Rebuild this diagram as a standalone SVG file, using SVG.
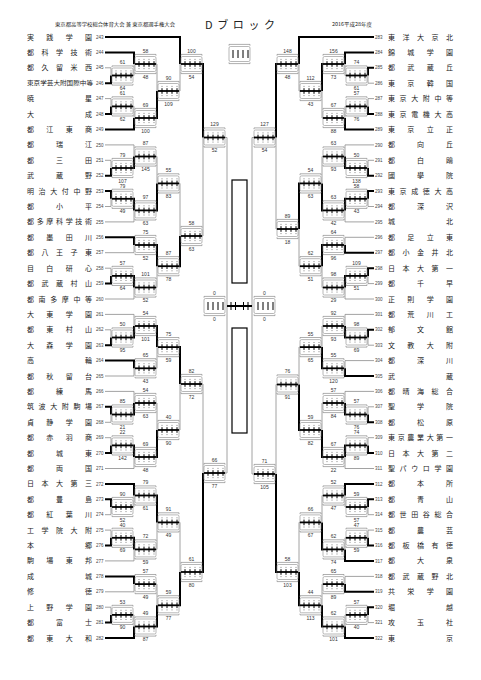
<svg xmlns="http://www.w3.org/2000/svg" xmlns:xlink="http://www.w3.org/1999/xlink" width="481" height="680" viewBox="0 0 481 680">
<style>
.nm{font-family:"Noto Sans CJK JP","Noto Sans CJK SC",sans-serif;font-size:7px;fill:#222}
.no{font-family:"Liberation Sans",sans-serif;font-size:4.5px;fill:#444}
.sc{font-family:"Liberation Sans",sans-serif;font-size:5px;fill:#333;text-anchor:middle}
.hd{font-family:"Noto Sans CJK JP","Noto Sans CJK SC",sans-serif;fill:#222}
.tn{fill:none;stroke:#8a8a8a;stroke-width:0.8}
.tk{fill:none;stroke:#000;stroke-width:2}
.br{fill:none;stroke:#777;stroke-width:0.6}
.bxr{fill:#fff;stroke:#888;stroke-width:0.6}
.dt{fill:none;stroke:#999;stroke-width:0.6}
.ml{fill:none;stroke:#000;stroke-width:1.8}
.tc{fill:none;stroke:#000;stroke-width:1}
.big{fill:none;stroke:#000;stroke-width:1.2}
</style>
<defs>
<g id="bx">
<path class="br" d="M0,-8.3V-9.6H21V-8.3M0,8.3V9.6H21V8.3"/>
<rect class="bxr" x="0" y="-7.5" width="21" height="15" rx="1.5"/>
<path class="dt" d="M3,-4.6h2M8,-4.6h2M13,-4.6h2M18,-4.6h2M3,4.6h2M8,4.6h2M13,4.6h2M18,4.6h2"/>
<path class="ml" d="M0,0H21"/>
<path class="tc" d="M4,-2.8V2.8M9,-2.8V2.8M14,-2.8V2.8M19,-2.8V2.8"/>
</g>
<g id="sb">
<path class="br" d="M0,-8.3V-9.6H21V-8.3M0,8.3V9.6H21V8.3"/>
<rect class="bxr" x="0" y="-7.5" width="21" height="15" rx="1.5"/>
<path class="tc" d="M4,-4V4M9,-4V4M14,-4V4M19,-4V4"/>
</g>
</defs>
<rect width="481" height="680" fill="#fff"/>

<g id="header">
<text class="hd" x="55" y="25.5" font-size="5" textLength="120" lengthAdjust="spacingAndGlyphs">東京都高等学校総合体育大会 兼 東京都選手権大会</text>
<text class="hd" x="205" y="29" font-size="11" textLength="70">Dブロック</text>
<text class="hd" x="332" y="25.5" font-size="5" textLength="40" lengthAdjust="spacingAndGlyphs">2016平成28年度</text>
</g>

<g id="connectors">
<path class="tn" d="M105,67.8H111V75.5M133,75.5H134V64M105,98.6H111V106.4M133,106.4H134V118M156,64H157V91M179,91H180V64M105,160.3H111V168M105,144.9H134V156.5M105,206.5H111V198.8M105,221.9H134V210.4M156,156.5H157V183.4M105,252.7H134V245M105,268.2H111V275.9M105,299H134V287.5M156,287.5H157V266.2M179,183.4H180V236M202,236H203V137.5M105,329.8H111V337.5M105,314.4H134V326M105,376H134V368.3M156,368.3H157V347.1M105,422.3H111V414.5M105,391.4H134V403M105,437.7H111V445.4M105,468.5H134V457M156,403H157V430M179,430H180V384M105,514.7H111V507M133,507H134V495.5M105,530.1H111V537.8M105,560.9H134V549.4M156,549.4H157V522.4M105,591.8H134V584.1M105,607.2H111V614.9M133,614.9H134V626.5M156,584.1H157V605.3M179,522.4H180V572M202,384H203V473M225,137.5H227V473H225"/>
<path class="tk" d="M105,83.2H111V75.5M105,52.4H134V64M105,114.1H111V106.4M105,129.5H134V118M156,118H157V91M105,37H180V64M105,175.7H111V168M133,168H134V156.5M105,191.1H111V198.8M133,198.8H134V210.4M156,210.4H157V183.4M105,237.3H134V245M105,283.6H111V275.9M133,275.9H134V287.5M156,245H157V266.2M179,266.2H180V236M202,64H203V137.5M105,345.2H111V337.5M133,337.5H134V326M105,360.6H134V368.3M156,326H157V347.1M105,406.8H111V414.5M133,414.5H134V403M105,453.1H111V445.4M133,445.4H134V457M156,457H157V430M179,347.1H180V384M105,499.3H111V507M105,483.9H134V495.5M105,545.5H111V537.8M133,537.8H134V549.4M156,495.5H157V522.4M105,576.4H134V584.1M105,622.6H111V614.9M105,638H134V626.5M156,626.5H157V605.3M179,605.3H180V572M202,572H203V473"/>
<path class="tn" d="M374,83.2H368V75.5M346,75.5H345V64M374,98.6H368V106.4M346,106.4H345V118M323,118H322V91M300,91H299V64M374,160.3H368V168M374,144.9H345V156.5M374,206.5H368V198.8M374,221.9H345V210.4M323,156.5H322V183.4M374,237.3H345V245M374,283.6H368V275.9M374,299H345V287.5M323,287.5H322V266.2M300,266.2H299V229M277,229H276V137.5M374,345.2H368V337.5M374,314.4H345V326M374,360.6H345V368.3M323,326H322V347.1M374,406.8H368V414.5M374,391.4H345V403M374,437.7H368V445.4M374,468.5H345V457M323,403H322V430M300,347.1H299V384.5M374,514.7H368V507M346,507H345V495.5M374,530.1H368V537.8M346,537.8H345V549.4M323,495.5H322V522.4M374,576.4H345V584.1M374,622.6H368V614.9M346,614.9H345V626.5M323,584.1H322V605.3M300,522.4H299V572M277,384.5H276V474M254,137.5H252V474H254"/>
<path class="tk" d="M374,67.8H368V75.5M374,52.4H345V64M374,114.1H368V106.4M374,129.5H345V118M323,64H322V91M374,37H299V64M374,175.7H368V168M346,168H345V156.5M374,191.1H368V198.8M346,198.8H345V210.4M323,210.4H322V183.4M374,252.7H345V245M374,268.2H368V275.9M346,275.9H345V287.5M323,245H322V266.2M300,183.4H299V229M277,64H276V137.5M374,329.8H368V337.5M346,337.5H345V326M374,376H345V368.3M323,368.3H322V347.1M374,422.3H368V414.5M346,414.5H345V403M374,453.1H368V445.4M346,445.4H345V457M323,457H322V430M300,430H299V384.5M374,499.3H368V507M374,483.9H345V495.5M374,545.5H368V537.8M374,560.9H345V549.4M323,549.4H322V522.4M374,591.8H345V584.1M374,607.2H368V614.9M374,638H345V626.5M323,626.5H322V605.3M300,605.3H299V572M277,572H276V474"/>
<path class="tk" d="M227,306H252"/>
<path class="tc" d="M231,302V310M235.5,302V310M243.5,302V310M248,302V310"/>
</g>

<g id="centre">
<rect class="big" x="232" y="180" width="15" height="103"/>
<rect class="big" x="232" y="328" width="15" height="105"/>
<use href="#sb" x="229" y="54"/>
</g>

<g id="teams-left">
<g id="t243" transform="translate(0,37)"><text class="nm" x="27" y="2.5" textLength="65">実践学園</text><text class="no" x="96" y="1.6">243</text></g>
<g id="t244" transform="translate(0,52.4)"><text class="nm" x="27" y="2.5" textLength="65">都科学技術</text><text class="no" x="96" y="1.6">244</text></g>
<g id="t245" transform="translate(0,67.8)"><text class="nm" x="27" y="2.5" textLength="65">都久留米西</text><text class="no" x="96" y="1.6">245</text></g>
<g id="t246" transform="translate(0,83.2)"><text class="nm" x="27" y="2.2" textLength="66" style="font-size:6px" lengthAdjust="spacingAndGlyphs">東京学芸大附国際中等</text><text class="no" x="96" y="1.6">246</text></g>
<g id="t247" transform="translate(0,98.6)"><text class="nm" x="27" y="2.5" textLength="65">暁星</text><text class="no" x="96" y="1.6">247</text></g>
<g id="t248" transform="translate(0,114.1)"><text class="nm" x="27" y="2.5" textLength="65">大成</text><text class="no" x="96" y="1.6">248</text></g>
<g id="t249" transform="translate(0,129.5)"><text class="nm" x="27" y="2.5" textLength="65">都江東商</text><text class="no" x="96" y="1.6">249</text></g>
<g id="t250" transform="translate(0,144.9)"><text class="nm" x="27" y="2.5" textLength="65">都瑞江</text><text class="no" x="96" y="1.6">250</text></g>
<g id="t251" transform="translate(0,160.3)"><text class="nm" x="27" y="2.5" textLength="65">都三田</text><text class="no" x="96" y="1.6">251</text></g>
<g id="t252" transform="translate(0,175.7)"><text class="nm" x="27" y="2.5" textLength="65">武蔵野</text><text class="no" x="96" y="1.6">252</text></g>
<g id="t253" transform="translate(0,191.1)"><text class="nm" x="27" y="2.5" textLength="65">明治大付中野</text><text class="no" x="96" y="1.6">253</text></g>
<g id="t254" transform="translate(0,206.5)"><text class="nm" x="27" y="2.5" textLength="65">都小平</text><text class="no" x="96" y="1.6">254</text></g>
<g id="t255" transform="translate(0,221.9)"><text class="nm" x="27" y="2.5" textLength="65">都多摩科学技術</text><text class="no" x="96" y="1.6">255</text></g>
<g id="t256" transform="translate(0,237.3)"><text class="nm" x="27" y="2.5" textLength="65">都墨田川</text><text class="no" x="96" y="1.6">256</text></g>
<g id="t257" transform="translate(0,252.7)"><text class="nm" x="27" y="2.5" textLength="65">都八王子東</text><text class="no" x="96" y="1.6">257</text></g>
<g id="t258" transform="translate(0,268.2)"><text class="nm" x="27" y="2.5" textLength="65">目白研心</text><text class="no" x="96" y="1.6">258</text></g>
<g id="t259" transform="translate(0,283.6)"><text class="nm" x="27" y="2.5" textLength="65">都武蔵村山</text><text class="no" x="96" y="1.6">259</text></g>
<g id="t260" transform="translate(0,299)"><text class="nm" x="27" y="2.5" textLength="65">都南多摩中等</text><text class="no" x="96" y="1.6">260</text></g>
<g id="t261" transform="translate(0,314.4)"><text class="nm" x="27" y="2.5" textLength="65">大東学園</text><text class="no" x="96" y="1.6">261</text></g>
<g id="t262" transform="translate(0,329.8)"><text class="nm" x="27" y="2.5" textLength="65">都東村山</text><text class="no" x="96" y="1.6">262</text></g>
<g id="t263" transform="translate(0,345.2)"><text class="nm" x="27" y="2.5" textLength="65">大森学園</text><text class="no" x="96" y="1.6">263</text></g>
<g id="t264" transform="translate(0,360.6)"><text class="nm" x="27" y="2.5" textLength="65">高輪</text><text class="no" x="96" y="1.6">264</text></g>
<g id="t265" transform="translate(0,376)"><text class="nm" x="27" y="2.5" textLength="65">都秋留台</text><text class="no" x="96" y="1.6">265</text></g>
<g id="t266" transform="translate(0,391.4)"><text class="nm" x="27" y="2.5" textLength="65">都練馬</text><text class="no" x="96" y="1.6">266</text></g>
<g id="t267" transform="translate(0,406.8)"><text class="nm" x="27" y="2.5" textLength="65">筑波大附駒場</text><text class="no" x="96" y="1.6">267</text></g>
<g id="t268" transform="translate(0,422.3)"><text class="nm" x="27" y="2.5" textLength="65">貞静学園</text><text class="no" x="96" y="1.6">268</text></g>
<g id="t269" transform="translate(0,437.7)"><text class="nm" x="27" y="2.5" textLength="65">都赤羽商</text><text class="no" x="96" y="1.6">269</text></g>
<g id="t270" transform="translate(0,453.1)"><text class="nm" x="27" y="2.5" textLength="65">都城東</text><text class="no" x="96" y="1.6">270</text></g>
<g id="t271" transform="translate(0,468.5)"><text class="nm" x="27" y="2.5" textLength="65">都両国</text><text class="no" x="96" y="1.6">271</text></g>
<g id="t272" transform="translate(0,483.9)"><text class="nm" x="27" y="2.5" textLength="65">日本大第三</text><text class="no" x="96" y="1.6">272</text></g>
<g id="t273" transform="translate(0,499.3)"><text class="nm" x="27" y="2.5" textLength="65">都豊島</text><text class="no" x="96" y="1.6">273</text></g>
<g id="t274" transform="translate(0,514.7)"><text class="nm" x="27" y="2.5" textLength="65">都紅葉川</text><text class="no" x="96" y="1.6">274</text></g>
<g id="t275" transform="translate(0,530.1)"><text class="nm" x="27" y="2.5" textLength="65">工学院大附</text><text class="no" x="96" y="1.6">275</text></g>
<g id="t276" transform="translate(0,545.5)"><text class="nm" x="27" y="2.5" textLength="65">本郷</text><text class="no" x="96" y="1.6">276</text></g>
<g id="t277" transform="translate(0,560.9)"><text class="nm" x="27" y="2.5" textLength="65">駒場東邦</text><text class="no" x="96" y="1.6">277</text></g>
<g id="t278" transform="translate(0,576.4)"><text class="nm" x="27" y="2.5" textLength="65">成城</text><text class="no" x="96" y="1.6">278</text></g>
<g id="t279" transform="translate(0,591.8)"><text class="nm" x="27" y="2.5" textLength="65">修徳</text><text class="no" x="96" y="1.6">279</text></g>
<g id="t280" transform="translate(0,607.2)"><text class="nm" x="27" y="2.5" textLength="65">上野学園</text><text class="no" x="96" y="1.6">280</text></g>
<g id="t281" transform="translate(0,622.6)"><text class="nm" x="27" y="2.5" textLength="65">都富士</text><text class="no" x="96" y="1.6">281</text></g>
<g id="t282" transform="translate(0,638)"><text class="nm" x="27" y="2.5" textLength="65">都東大和</text><text class="no" x="96" y="1.6">282</text></g>
</g>

<g id="teams-right">
<g id="t283" transform="translate(0,37)"><text class="no" x="375" y="1.6">283</text><text class="nm" x="388" y="2.5" textLength="65">東洋大京北</text></g>
<g id="t284" transform="translate(0,52.4)"><text class="no" x="375" y="1.6">284</text><text class="nm" x="388" y="2.5" textLength="65">錦城学園</text></g>
<g id="t285" transform="translate(0,67.8)"><text class="no" x="375" y="1.6">285</text><text class="nm" x="388" y="2.5" textLength="65">都武蔵丘</text></g>
<g id="t286" transform="translate(0,83.2)"><text class="no" x="375" y="1.6">286</text><text class="nm" x="388" y="2.5" textLength="65">東京韓国</text></g>
<g id="t287" transform="translate(0,98.6)"><text class="no" x="375" y="1.6">287</text><text class="nm" x="388" y="2.5" textLength="65">東京大附中等</text></g>
<g id="t288" transform="translate(0,114.1)"><text class="no" x="375" y="1.6">288</text><text class="nm" x="388" y="2.5" textLength="65">東京電機大高</text></g>
<g id="t289" transform="translate(0,129.5)"><text class="no" x="375" y="1.6">289</text><text class="nm" x="388" y="2.5" textLength="65">東京立正</text></g>
<g id="t290" transform="translate(0,144.9)"><text class="no" x="375" y="1.6">290</text><text class="nm" x="388" y="2.5" textLength="65">都向丘</text></g>
<g id="t291" transform="translate(0,160.3)"><text class="no" x="375" y="1.6">291</text><text class="nm" x="388" y="2.5" textLength="65">都白鴎</text></g>
<g id="t292" transform="translate(0,175.7)"><text class="no" x="375" y="1.6">292</text><text class="nm" x="388" y="2.5" textLength="65">國學院</text></g>
<g id="t293" transform="translate(0,191.1)"><text class="no" x="375" y="1.6">293</text><text class="nm" x="388" y="2.5" textLength="65">東京成徳大高</text></g>
<g id="t294" transform="translate(0,206.5)"><text class="no" x="375" y="1.6">294</text><text class="nm" x="388" y="2.5" textLength="65">都深沢</text></g>
<g id="t295" transform="translate(0,221.9)"><text class="no" x="375" y="1.6">295</text><text class="nm" x="388" y="2.5" textLength="65">城北</text></g>
<g id="t296" transform="translate(0,237.3)"><text class="no" x="375" y="1.6">296</text><text class="nm" x="388" y="2.5" textLength="65">都足立東</text></g>
<g id="t297" transform="translate(0,252.7)"><text class="no" x="375" y="1.6">297</text><text class="nm" x="388" y="2.5" textLength="65">都小金井北</text></g>
<g id="t298" transform="translate(0,268.2)"><text class="no" x="375" y="1.6">298</text><text class="nm" x="388" y="2.5" textLength="65">日本大第一</text></g>
<g id="t299" transform="translate(0,283.6)"><text class="no" x="375" y="1.6">299</text><text class="nm" x="388" y="2.5" textLength="65">都千早</text></g>
<g id="t300" transform="translate(0,299)"><text class="no" x="375" y="1.6">300</text><text class="nm" x="388" y="2.5" textLength="65">正則学園</text></g>
<g id="t301" transform="translate(0,314.4)"><text class="no" x="375" y="1.6">301</text><text class="nm" x="388" y="2.5" textLength="65">都荒川工</text></g>
<g id="t302" transform="translate(0,329.8)"><text class="no" x="375" y="1.6">302</text><text class="nm" x="388" y="2.5" textLength="65">郁文館</text></g>
<g id="t303" transform="translate(0,345.2)"><text class="no" x="375" y="1.6">303</text><text class="nm" x="388" y="2.5" textLength="65">文教大附</text></g>
<g id="t304" transform="translate(0,360.6)"><text class="no" x="375" y="1.6">304</text><text class="nm" x="388" y="2.5" textLength="65">都深川</text></g>
<g id="t305" transform="translate(0,376)"><text class="no" x="375" y="1.6">305</text><text class="nm" x="388" y="2.5" textLength="65">武蔵</text></g>
<g id="t306" transform="translate(0,391.4)"><text class="no" x="375" y="1.6">306</text><text class="nm" x="388" y="2.5" textLength="65">都晴海総合</text></g>
<g id="t307" transform="translate(0,406.8)"><text class="no" x="375" y="1.6">307</text><text class="nm" x="388" y="2.5" textLength="65">聖学院</text></g>
<g id="t308" transform="translate(0,422.3)"><text class="no" x="375" y="1.6">308</text><text class="nm" x="388" y="2.5" textLength="65">都松原</text></g>
<g id="t309" transform="translate(0,437.7)"><text class="no" x="375" y="1.6">309</text><text class="nm" x="388" y="2.5" textLength="65">東京農業大第一</text></g>
<g id="t310" transform="translate(0,453.1)"><text class="no" x="375" y="1.6">310</text><text class="nm" x="388" y="2.5" textLength="65">日本大第二</text></g>
<g id="t311" transform="translate(0,468.5)"><text class="no" x="375" y="1.6">311</text><text class="nm" x="388" y="2.5" textLength="65">聖パウロ学園</text></g>
<g id="t312" transform="translate(0,483.9)"><text class="no" x="375" y="1.6">312</text><text class="nm" x="388" y="2.5" textLength="65">都本所</text></g>
<g id="t313" transform="translate(0,499.3)"><text class="no" x="375" y="1.6">313</text><text class="nm" x="388" y="2.5" textLength="65">都青山</text></g>
<g id="t314" transform="translate(0,514.7)"><text class="no" x="375" y="1.6">314</text><text class="nm" x="388" y="2.5" textLength="65">都世田谷総合</text></g>
<g id="t315" transform="translate(0,530.1)"><text class="no" x="375" y="1.6">315</text><text class="nm" x="388" y="2.5" textLength="65">都農芸</text></g>
<g id="t316" transform="translate(0,545.5)"><text class="no" x="375" y="1.6">316</text><text class="nm" x="388" y="2.5" textLength="65">都板橋有徳</text></g>
<g id="t317" transform="translate(0,560.9)"><text class="no" x="375" y="1.6">317</text><text class="nm" x="388" y="2.5" textLength="65">都大泉</text></g>
<g id="t318" transform="translate(0,576.4)"><text class="no" x="375" y="1.6">318</text><text class="nm" x="388" y="2.5" textLength="65">都武蔵野北</text></g>
<g id="t319" transform="translate(0,591.8)"><text class="no" x="375" y="1.6">319</text><text class="nm" x="388" y="2.5" textLength="65">共栄学園</text></g>
<g id="t320" transform="translate(0,607.2)"><text class="no" x="375" y="1.6">320</text><text class="nm" x="388" y="2.5" textLength="65">堀越</text></g>
<g id="t321" transform="translate(0,622.6)"><text class="no" x="375" y="1.6">321</text><text class="nm" x="388" y="2.5" textLength="65">攻玉社</text></g>
<g id="t322" transform="translate(0,638)"><text class="no" x="375" y="1.6">322</text><text class="nm" x="388" y="2.5" textLength="65">東京</text></g>
</g>

<g id="matches-left">
<g id="mA1" transform="translate(112,75.5)"><use href="#bx"/><text class="sc" x="10.5" y="-11.2">61</text><text class="sc" x="10.5" y="14.6">64</text></g>
<g id="mA2" transform="translate(135,64)"><use href="#bx"/><text class="sc" x="10.5" y="-11.2">58</text><text class="sc" x="10.5" y="14.6">48</text></g>
<g id="mA3" transform="translate(112,106.4)"><use href="#bx"/><text class="sc" x="10.5" y="-11.2">61</text><text class="sc" x="10.5" y="14.6">62</text></g>
<g id="mA4" transform="translate(135,118)"><use href="#bx"/><text class="sc" x="10.5" y="-11.2">69</text><text class="sc" x="10.5" y="14.6">100</text></g>
<g id="mA5" transform="translate(158,91)"><use href="#bx"/><text class="sc" x="10.5" y="-11.2">90</text><text class="sc" x="10.5" y="14.6">109</text></g>
<g id="mA6" transform="translate(181,64)"><use href="#bx"/><text class="sc" x="10.5" y="-11.2">100</text><text class="sc" x="10.5" y="14.6">54</text></g>
<g id="mB1" transform="translate(112,168)"><use href="#bx"/><text class="sc" x="10.5" y="-11.2">79</text><text class="sc" x="10.5" y="14.6">107</text></g>
<g id="mB2" transform="translate(135,156.5)"><use href="#bx"/><text class="sc" x="10.5" y="-11.2">87</text><text class="sc" x="10.5" y="14.6">145</text></g>
<g id="mB3" transform="translate(112,198.8)"><use href="#bx"/><text class="sc" x="10.5" y="-11.2">79</text><text class="sc" x="10.5" y="14.6">49</text></g>
<g id="mB4" transform="translate(135,210.4)"><use href="#bx"/><text class="sc" x="10.5" y="-11.2">97</text><text class="sc" x="10.5" y="14.6">63</text></g>
<g id="mB5" transform="translate(158,183.4)"><use href="#bx"/><text class="sc" x="10.5" y="-11.2">55</text><text class="sc" x="10.5" y="14.6">83</text></g>
<g id="mB6" transform="translate(135,245)"><use href="#bx"/><text class="sc" x="10.5" y="-11.2">75</text><text class="sc" x="10.5" y="14.6">52</text></g>
<g id="mB7" transform="translate(112,275.9)"><use href="#bx"/><text class="sc" x="10.5" y="-11.2">57</text><text class="sc" x="10.5" y="14.6">64</text></g>
<g id="mB8" transform="translate(135,287.5)"><use href="#bx"/><text class="sc" x="10.5" y="-11.2">101</text><text class="sc" x="10.5" y="14.6">52</text></g>
<g id="mB9" transform="translate(158,266.2)"><use href="#bx"/><text class="sc" x="10.5" y="-11.2">87</text><text class="sc" x="10.5" y="14.6">78</text></g>
<g id="mB10" transform="translate(181,236)"><use href="#bx"/><text class="sc" x="10.5" y="-11.2">58</text><text class="sc" x="10.5" y="14.6">63</text></g>
<g id="mLT" transform="translate(204,137.5)"><use href="#bx"/><text class="sc" x="10.5" y="-11.2">129</text><text class="sc" x="10.5" y="14.6">52</text></g>
<g id="mC1" transform="translate(112,337.5)"><use href="#bx"/><text class="sc" x="10.5" y="-11.2">50</text><text class="sc" x="10.5" y="14.6">95</text></g>
<g id="mC2" transform="translate(135,326)"><use href="#bx"/><text class="sc" x="10.5" y="-11.2">54</text><text class="sc" x="10.5" y="14.6">101</text></g>
<g id="mC3" transform="translate(135,368.3)"><use href="#bx"/><text class="sc" x="10.5" y="-11.2">65</text><text class="sc" x="10.5" y="14.6">43</text></g>
<g id="mC4" transform="translate(158,347.1)"><use href="#bx"/><text class="sc" x="10.5" y="-11.2">75</text><text class="sc" x="10.5" y="14.6">59</text></g>
<g id="mC5" transform="translate(112,414.5)"><use href="#bx"/><text class="sc" x="10.5" y="-11.2">85</text><text class="sc" x="10.5" y="14.6">21</text></g>
<g id="mC6" transform="translate(135,403)"><use href="#bx"/><text class="sc" x="10.5" y="-11.2">54</text><text class="sc" x="10.5" y="14.6">63</text></g>
<g id="mC7" transform="translate(112,445.4)"><use href="#bx"/><text class="sc" x="10.5" y="-11.2">22</text><text class="sc" x="10.5" y="14.6">142</text></g>
<g id="mC8" transform="translate(135,457)"><use href="#bx"/><text class="sc" x="10.5" y="-11.2">69</text><text class="sc" x="10.5" y="14.6">48</text></g>
<g id="mC9" transform="translate(158,430)"><use href="#bx"/><text class="sc" x="10.5" y="-11.2">40</text><text class="sc" x="10.5" y="14.6">90</text></g>
<g id="mC10" transform="translate(181,384)"><use href="#bx"/><text class="sc" x="10.5" y="-11.2">82</text><text class="sc" x="10.5" y="14.6">72</text></g>
<g id="mD1" transform="translate(112,507)"><use href="#bx"/><text class="sc" x="10.5" y="-11.2">90</text><text class="sc" x="10.5" y="14.6">52</text></g>
<g id="mD2" transform="translate(135,495.5)"><use href="#bx"/><text class="sc" x="10.5" y="-11.2">79</text><text class="sc" x="10.5" y="14.6">61</text></g>
<g id="mD3" transform="translate(112,537.8)"><use href="#bx"/><text class="sc" x="10.5" y="-11.2">40</text><text class="sc" x="10.5" y="14.6">69</text></g>
<g id="mD4" transform="translate(135,549.4)"><use href="#bx"/><text class="sc" x="10.5" y="-11.2">72</text><text class="sc" x="10.5" y="14.6">59</text></g>
<g id="mD5" transform="translate(158,522.4)"><use href="#bx"/><text class="sc" x="10.5" y="-11.2">91</text><text class="sc" x="10.5" y="14.6">49</text></g>
<g id="mD6" transform="translate(135,584.1)"><use href="#bx"/><text class="sc" x="10.5" y="-11.2">57</text><text class="sc" x="10.5" y="14.6">49</text></g>
<g id="mD7" transform="translate(112,614.9)"><use href="#bx"/><text class="sc" x="10.5" y="-11.2">53</text><text class="sc" x="10.5" y="14.6">90</text></g>
<g id="mD8" transform="translate(135,626.5)"><use href="#bx"/><text class="sc" x="10.5" y="-11.2">49</text><text class="sc" x="10.5" y="14.6">87</text></g>
<g id="mD9" transform="translate(158,605.3)"><use href="#bx"/><text class="sc" x="10.5" y="-11.2">59</text><text class="sc" x="10.5" y="14.6">77</text></g>
<g id="mD10" transform="translate(181,572)"><use href="#bx"/><text class="sc" x="10.5" y="-11.2">61</text><text class="sc" x="10.5" y="14.6">80</text></g>
<g id="mLB" transform="translate(204,473)"><use href="#bx"/><text class="sc" x="10.5" y="-11.2">66</text><text class="sc" x="10.5" y="14.6">77</text></g>
<g id="mSL" transform="translate(204,306)"><use href="#sb"/><text class="sc" x="10.5" y="-11.2">0</text><text class="sc" x="10.5" y="14.6">0</text></g>
</g>

<g id="matches-right">
<g id="ma1" transform="translate(346,75.5)"><use href="#bx"/><text class="sc" x="10.5" y="-11.2">74</text><text class="sc" x="10.5" y="14.6">61</text></g>
<g id="ma2" transform="translate(323,64)"><use href="#bx"/><text class="sc" x="10.5" y="-11.2">156</text><text class="sc" x="10.5" y="14.6">73</text></g>
<g id="ma3" transform="translate(346,106.4)"><use href="#bx"/><text class="sc" x="10.5" y="-11.2">57</text><text class="sc" x="10.5" y="14.6">76</text></g>
<g id="ma4" transform="translate(323,118)"><use href="#bx"/><text class="sc" x="10.5" y="-11.2">67</text><text class="sc" x="10.5" y="14.6">88</text></g>
<g id="ma5" transform="translate(300,91)"><use href="#bx"/><text class="sc" x="10.5" y="-11.2">112</text><text class="sc" x="10.5" y="14.6">43</text></g>
<g id="ma6" transform="translate(277,64)"><use href="#bx"/><text class="sc" x="10.5" y="-11.2">148</text><text class="sc" x="10.5" y="14.6">48</text></g>
<g id="mb1" transform="translate(346,168)"><use href="#bx"/><text class="sc" x="10.5" y="-11.2">50</text><text class="sc" x="10.5" y="14.6">138</text></g>
<g id="mb2" transform="translate(323,156.5)"><use href="#bx"/><text class="sc" x="10.5" y="-11.2">63</text><text class="sc" x="10.5" y="14.6">93</text></g>
<g id="mb3" transform="translate(346,198.8)"><use href="#bx"/><text class="sc" x="10.5" y="-11.2">58</text><text class="sc" x="10.5" y="14.6">43</text></g>
<g id="mb4" transform="translate(323,210.4)"><use href="#bx"/><text class="sc" x="10.5" y="-11.2">63</text><text class="sc" x="10.5" y="14.6">42</text></g>
<g id="mb5" transform="translate(300,183.4)"><use href="#bx"/><text class="sc" x="10.5" y="-11.2">54</text><text class="sc" x="10.5" y="14.6">63</text></g>
<g id="mb6" transform="translate(323,245)"><use href="#bx"/><text class="sc" x="10.5" y="-11.2">64</text><text class="sc" x="10.5" y="14.6">96</text></g>
<g id="mb7" transform="translate(346,275.9)"><use href="#bx"/><text class="sc" x="10.5" y="-11.2">109</text><text class="sc" x="10.5" y="14.6">51</text></g>
<g id="mb8" transform="translate(323,287.5)"><use href="#bx"/><text class="sc" x="10.5" y="-11.2">98</text><text class="sc" x="10.5" y="14.6">29</text></g>
<g id="mb9" transform="translate(300,266.2)"><use href="#bx"/><text class="sc" x="10.5" y="-11.2">62</text><text class="sc" x="10.5" y="14.6">51</text></g>
<g id="mb10" transform="translate(277,229)"><use href="#bx"/><text class="sc" x="10.5" y="-11.2">89</text><text class="sc" x="10.5" y="14.6">18</text></g>
<g id="mRT" transform="translate(254,137.5)"><use href="#bx"/><text class="sc" x="10.5" y="-11.2">127</text><text class="sc" x="10.5" y="14.6">54</text></g>
<g id="mc1" transform="translate(346,337.5)"><use href="#bx"/><text class="sc" x="10.5" y="-11.2">98</text><text class="sc" x="10.5" y="14.6">69</text></g>
<g id="mc2" transform="translate(323,326)"><use href="#bx"/><text class="sc" x="10.5" y="-11.2">92</text><text class="sc" x="10.5" y="14.6">93</text></g>
<g id="mc3" transform="translate(323,368.3)"><use href="#bx"/><text class="sc" x="10.5" y="-11.2">55</text><text class="sc" x="10.5" y="14.6">120</text></g>
<g id="mc4" transform="translate(300,347.1)"><use href="#bx"/><text class="sc" x="10.5" y="-11.2">55</text><text class="sc" x="10.5" y="14.6">65</text></g>
<g id="mc5" transform="translate(346,414.5)"><use href="#bx"/><text class="sc" x="10.5" y="-11.2">57</text><text class="sc" x="10.5" y="14.6">76</text></g>
<g id="mc6" transform="translate(323,403)"><use href="#bx"/><text class="sc" x="10.5" y="-11.2">57</text><text class="sc" x="10.5" y="14.6">84</text></g>
<g id="mc7" transform="translate(346,445.4)"><use href="#bx"/><text class="sc" x="10.5" y="-11.2">74</text><text class="sc" x="10.5" y="14.6">89</text></g>
<g id="mc8" transform="translate(323,457)"><use href="#bx"/><text class="sc" x="10.5" y="-11.2">67</text><text class="sc" x="10.5" y="14.6">22</text></g>
<g id="mc9" transform="translate(300,430)"><use href="#bx"/><text class="sc" x="10.5" y="-11.2">59</text><text class="sc" x="10.5" y="14.6">82</text></g>
<g id="mc10" transform="translate(277,384.5)"><use href="#bx"/><text class="sc" x="10.5" y="-11.2">76</text><text class="sc" x="10.5" y="14.6">91</text></g>
<g id="md1" transform="translate(346,507)"><use href="#bx"/><text class="sc" x="10.5" y="-11.2">59</text><text class="sc" x="10.5" y="14.6">57</text></g>
<g id="md2" transform="translate(323,495.5)"><use href="#bx"/><text class="sc" x="10.5" y="-11.2">52</text><text class="sc" x="10.5" y="14.6">47</text></g>
<g id="md3" transform="translate(346,537.8)"><use href="#bx"/><text class="sc" x="10.5" y="-11.2">47</text><text class="sc" x="10.5" y="14.6">59</text></g>
<g id="md4" transform="translate(323,549.4)"><use href="#bx"/><text class="sc" x="10.5" y="-11.2">62</text><text class="sc" x="10.5" y="14.6">74</text></g>
<g id="md5" transform="translate(300,522.4)"><use href="#bx"/><text class="sc" x="10.5" y="-11.2">66</text><text class="sc" x="10.5" y="14.6">67</text></g>
<g id="md6" transform="translate(323,584.1)"><use href="#bx"/><text class="sc" x="10.5" y="-11.2">65</text><text class="sc" x="10.5" y="14.6">89</text></g>
<g id="md7" transform="translate(346,614.9)"><use href="#bx"/><text class="sc" x="10.5" y="-11.2">57</text><text class="sc" x="10.5" y="14.6">40</text></g>
<g id="md8" transform="translate(323,626.5)"><use href="#bx"/><text class="sc" x="10.5" y="-11.2">62</text><text class="sc" x="10.5" y="14.6">101</text></g>
<g id="md9" transform="translate(300,605.3)"><use href="#bx"/><text class="sc" x="10.5" y="-11.2">44</text><text class="sc" x="10.5" y="14.6">113</text></g>
<g id="md10" transform="translate(277,572)"><use href="#bx"/><text class="sc" x="10.5" y="-11.2">58</text><text class="sc" x="10.5" y="14.6">103</text></g>
<g id="mRB" transform="translate(254,474)"><use href="#bx"/><text class="sc" x="10.5" y="-11.2">71</text><text class="sc" x="10.5" y="14.6">105</text></g>
<g id="mSR" transform="translate(254,306)"><use href="#sb"/><text class="sc" x="10.5" y="-11.2">0</text><text class="sc" x="10.5" y="14.6">0</text></g>
</g>
</svg>
